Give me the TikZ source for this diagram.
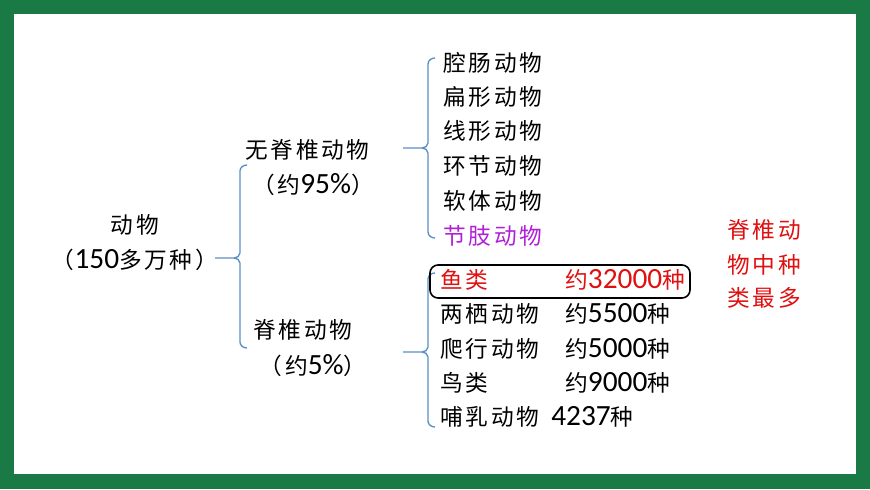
\documentclass[tikz,border=0pt]{standalone}
\usepackage{fontspec}
\newfontfamily\cjk[LetterSpace=12]{Noto Sans CJK SC}
\newfontfamily\lat{Carlito}
\newcommand{\dg}[1]{{\lat\fontsize{22pt}{24pt}\selectfont #1}}
\definecolor{frame}{HTML}{1A7A45}
\definecolor{brc}{HTML}{5B8FC9}
\definecolor{pur}{HTML}{B020D8}
\definecolor{rd}{HTML}{E01010}
\newcommand{\mybrace}[4]{%
  \draw[br] (#1+7,#2) to[out=180,in=90] (#1,#2+6) -- (#1,#3-5) to[out=-90,in=0] (#1-6,#3) -- (#1-25,#3);
  \draw[br] (#1-6,#3) to[out=0,in=90] (#1,#3+5) -- (#1,#4-6) to[out=-90,in=180] (#1+7,#4);}
\begin{document}
\begin{tikzpicture}[x=0.75pt,y=-0.75pt,
  t/.style={font=\cjk\fontsize{17pt}{20pt}\selectfont,inner sep=0pt,anchor=west},
  tc/.style={font=\cjk\fontsize{17pt}{20pt}\selectfont,inner sep=0pt},
  br/.style={draw=brc,line width=1pt}]
\fill[frame] (0,0) rectangle (870,489);
\fill[white] (14,14) rectangle (856,474);
\useasboundingbox (0,0) rectangle (870,489);
\mybrace{240}{165}{258}{348}
\mybrace{428}{58}{148}{238}
\mybrace{428}{273}{352}{427}
\node[tc] (a) at (135,225) {动物};
\node[tc] (a2) at (135,260) {（\dg{150}多万种）};
\node[t] (b) at (245,150) {无脊椎动物};
\node[tc] (b2) at (313,185) {（约\dg{95\%}）};
\node[t] (c) at (253,330) {脊椎动物};
\node[tc] (c2) at (313,366) {（约\dg{5\%}）};
\node[t] (u1) at (443,63) {腔肠动物};
\node[t] (u2) at (443,97) {扁形动物};
\node[t] (u3) at (443,131) {线形动物};
\node[t] (u4) at (443,166) {环节动物};
\node[t] (u5) at (443,201) {软体动物};
\node[t,text=pur] (u6) at (443,236) {节肢动物};
\draw[line width=1.2pt,rounded corners=6pt] (430,265) rectangle (690,298);
\node[t,text=rd] (l1) at (440,280) {鱼类};
\node[t,text=rd] (l1n) at (565,280) {约\dg{32000}种};
\node[t] (l2) at (440,314) {两栖动物};
\node[t] (l2n) at (565,314) {约\dg{5500}种};
\node[t] (l3) at (440,349) {爬行动物};
\node[t] (l3n) at (565,349) {约\dg{5000}种};
\node[t] (l4) at (440,383) {鸟类};
\node[t] (l4n) at (565,383) {约\dg{9000}种};
\node[t] (l5) at (440,417) {哺乳动物};
\node[t] (l5n) at (551,417) {\dg{4237}种};
\node[t,text=rd] (r1) at (727,230) {脊椎动};
\node[t,text=rd] (r2) at (727,265) {物中种};
\node[t,text=rd] (r3) at (727,298) {类最多};
\end{tikzpicture}
\end{document}
